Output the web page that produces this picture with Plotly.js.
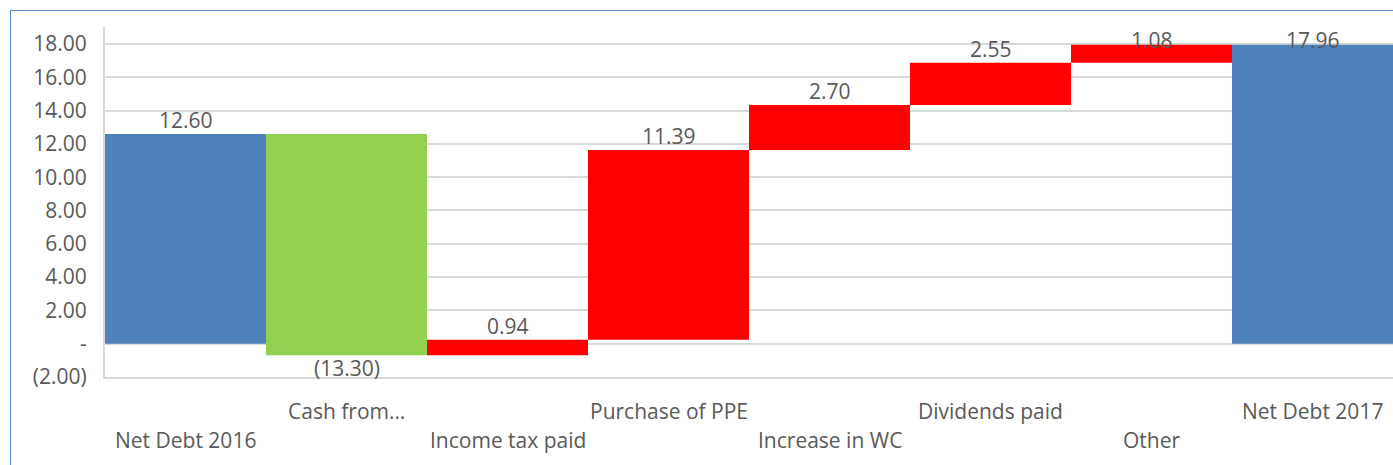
<!DOCTYPE html>
<html>
<head>
<meta charset="utf-8">
<script src="https://cdn.plot.ly/plotly-3.0.1.min.js"></script>
<style>
  html, body { margin:0; padding:0; width:1393px; height:465px; overflow:hidden; background:#fff; }
  #chart { position:absolute; left:0; top:0; width:1393px; height:465px; }
  #frame { position:absolute; left:10px; top:10px; width:2000px; height:1000px; border:1px solid #5b87c5; pointer-events:none; }
</style>
</head>
<body>
<div id="chart"></div>
<div id="frame"></div>
<script>
// ---- data ----
const categories = ["Net Debt 2016", "Cash from…", "Income tax paid", "Purchase of PPE",
                    "Increase in WC", "Dividends paid", "Other", "Net Debt 2017"];
const values = [12.60, -13.30, 0.94, 11.39, 2.70, 2.55, 1.08, 17.96];
const measures = ["absolute", "relative", "relative", "relative", "relative", "relative", "relative", "total"];
const yTickVals = [-2, 0, 2, 4, 6, 8, 10, 12, 14, 16, 18];

// ---- helpers ----
function fmt(v) {
  if (Math.abs(v) < 1e-9) return "-";
  const s = Math.abs(v).toFixed(2);
  return v < 0 ? "(" + s + ")" : s;
}

const yMin = -2, yMax = 19.02;
const plotTop = 27, plotBottom = 377;
const pxPerUnit = (plotBottom - plotTop) / (yMax - yMin);

// running ends of each bar
let run = 0;
const ends = [];
measures.forEach((m, i) => {
  if (m === "absolute") run = values[i];
  else if (m === "relative") run += values[i];
  ends.push(run);
});

const textColor = "#595959";
const fontFam = "Open Sans, sans-serif";
const fs = 21;

const annotations = [];
// data labels
categories.forEach((c, i) => {
  const neg = measures[i] === "relative" && values[i] < 0;
  let y;
  if (neg) {
    y = ends[i] - 13 / pxPerUnit;
  } else {
    y = Math.min(ends[i] + 14 / pxPerUnit, yMax - 13 / pxPerUnit);
  }
  annotations.push({
    x: c, y: y, xref: "x", yref: "y", text: fmt(values[i]),
    showarrow: false, yanchor: "middle", xanchor: "center",
    font: {family: fontFam, size: fs, color: textColor}
  });
});
// category labels (staggered two rows)
categories.forEach((c, i) => {
  annotations.push({
    x: c, y: 0, xref: "x", yref: "paper", text: c,
    showarrow: false, yanchor: "middle", xanchor: "center",
    yshift: (i % 2 === 1) ? -34 : -63,
    font: {family: fontFam, size: fs, color: textColor}
  });
});

const trace = {
  type: "waterfall",
  x: categories,
  y: values,
  measure: measures,
  textinfo: "none",
  hoverinfo: "skip",
  connector: {visible: false},
  increasing: {marker: {color: "#FF0000", line: {width: 0}}},
  decreasing: {marker: {color: "#92D050", line: {width: 0}}},
  totals: {marker: {color: "#4F81BD", line: {width: 0}}}
};

const layout = {
  width: 1393, height: 465,
  margin: {l: 105, r: 0, t: plotTop, b: 465 - plotBottom, pad: 0},
  paper_bgcolor: "#ffffff", plot_bgcolor: "#ffffff",
  showlegend: false,
  waterfallgap: 0,
  font: {family: fontFam, size: fs, color: textColor},
  xaxis: {
    type: "category",
    showticklabels: false,
    showgrid: false,
    showline: true, linecolor: "#D9D9D9", linewidth: 2,
    zeroline: false, ticks: "", fixedrange: true
  },
  yaxis: {
    range: [yMin, yMax],
    tickvals: yTickVals,
    ticktext: yTickVals.map(fmt),
    showgrid: true, gridcolor: "#D9D9D9", gridwidth: 2,
    showline: true, linecolor: "#D9D9D9", linewidth: 2,
    zeroline: false, ticks: "",
    ticklabelstandoff: 12,
    tickfont: {family: fontFam, size: fs, color: textColor},
    fixedrange: true
  },
  annotations: annotations
};

Plotly.newPlot("chart", [trace], layout, {displayModeBar: false, staticPlot: true});
</script>
</body>
</html>
